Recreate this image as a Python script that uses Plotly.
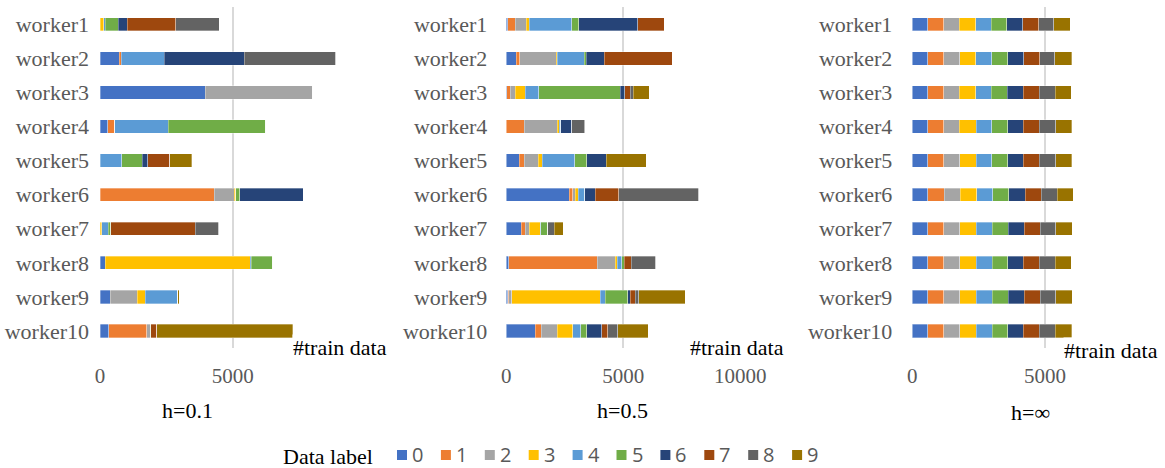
import plotly.graph_objects as go

# Worker names (top to bottom) and data labels
workers = [f"worker{i}" for i in range(1, 11)]
labels = ["0", "1", "2", "3", "4", "5", "6", "7", "8", "9"]
colors = ["#4472C4", "#ED7D31", "#A5A5A5", "#FFC000", "#5B9BD5",
          "#70AD47", "#264478", "#9E480E", "#636363", "#997300"]

# Number of training samples per label for each worker (rows = workers, cols = labels 0..9)
h_01 = [
    [0, 0, 0, 140, 60, 480, 340, 1830, 1650, 0],
    [730, 75, 0, 0, 1620, 0, 3010, 0, 3450, 0],
    [3970, 0, 4040, 0, 0, 0, 0, 0, 0, 0],
    [300, 250, 0, 0, 2020, 3670, 0, 0, 0, 0],
    [0, 0, 0, 0, 820, 770, 210, 820, 0, 840],
    [0, 4300, 750, 60, 0, 160, 2390, 0, 0, 0],
    [0, 0, 0, 75, 230, 100, 0, 3190, 870, 0],
    [190, 0, 0, 5480, 25, 820, 0, 0, 0, 0],
    [380, 0, 1020, 310, 1220, 0, 0, 0, 0, 50],
    [330, 1430, 130, 0, 0, 25, 0, 230, 0, 5120],
]
h_05 = [
    [60, 330, 460, 130, 1810, 310, 2510, 1150, 0, 0],
    [430, 140, 1570, 30, 1170, 70, 780, 2910, 0, 0],
    [20, 150, 210, 440, 560, 3480, 200, 230, 140, 670],
    [0, 770, 1400, 90, 70, 0, 460, 0, 560, 30],
    [560, 200, 600, 170, 1400, 510, 840, 0, 0, 1700],
    [2690, 160, 90, 140, 270, 0, 460, 1000, 3410, 0],
    [630, 170, 190, 460, 30, 300, 0, 0, 270, 390],
    [110, 3780, 760, 90, 200, 100, 0, 310, 1030, 0],
    [60, 40, 140, 3780, 210, 970, 100, 210, 160, 1970],
    [1240, 260, 680, 670, 330, 260, 630, 260, 440, 1300],
]
h_inf = [
    [590, 590, 590, 615, 590, 590, 600, 600, 565, 625],
    [590, 600, 600, 605, 600, 600, 605, 600, 565, 640],
    [590, 590, 580, 630, 590, 605, 590, 600, 605, 600],
    [590, 590, 580, 640, 590, 605, 590, 605, 605, 605],
    [590, 590, 600, 630, 580, 605, 590, 605, 605, 605],
    [590, 605, 605, 630, 605, 605, 605, 605, 605, 615],
    [590, 590, 605, 615, 605, 605, 605, 605, 590, 615],
    [590, 590, 605, 615, 605, 590, 590, 590, 605, 600],
    [590, 590, 605, 615, 605, 605, 605, 605, 590, 615],
    [590, 590, 605, 615, 605, 590, 590, 605, 590, 630],
]
panel_titles = ["h=0.1", "h=0.5", "h=\u221e"]
panels = [h_01, h_05, h_inf]
x_ticks = [[0, 5000], [0, 5000, 10000], [0, 5000]]

W, H = 1165, 468
SERIF = "Liberation Serif"
SANS = "Open Sans"
GRAY = "#595959"

fig = go.Figure()
for p, data in enumerate(panels):
    xa = "x" if p == 0 else f"x{p + 1}"
    ya = "y" if p == 0 else f"y{p + 1}"
    for k, lab in enumerate(labels):
        fig.add_trace(go.Bar(
            y=workers, x=[row[k] for row in data], orientation="h",
            name=lab, legendgroup=lab, showlegend=False,
            marker=dict(color=colors[k], line=dict(width=0.6, color="rgba(255,255,255,0.55)")),
            xaxis=xa, yaxis=ya, hoverinfo="x+y+name",
        ))


def px(v):
    return v / W


def py(v):
    return 1 - v / H


ydom = [py(348), py(7.3)]
xdoms = [[px(100), px(365.4)], [px(506.3), px(740.3)], [px(912.3), px(1151.3)]]
xranges = [[0, 10000], [0, 10000], [0, 9000]]
ystandoff = [10, 18, 19]

layout = dict(
    width=W, height=H, margin=dict(l=0, r=0, t=0, b=0, autoexpand=False),
    barmode="stack", bargap=0.61, showlegend=False,
    plot_bgcolor="white", paper_bgcolor="white",
    font=dict(family=SERIF, size=22, color=GRAY),
)
for p in range(3):
    xk = "xaxis" if p == 0 else f"xaxis{p + 1}"
    yk = "yaxis" if p == 0 else f"yaxis{p + 1}"
    ya = "y" if p == 0 else f"y{p + 1}"
    xa = "x" if p == 0 else f"x{p + 1}"
    layout[xk] = dict(
        domain=xdoms[p], range=xranges[p], tickvals=x_ticks[p],
        ticktext=[str(v) for v in x_ticks[p]],
        anchor=ya, showgrid=True, gridcolor="#d9d9d9", gridwidth=1.5,
        zeroline=False, showline=False, ticks="outside", ticklen=4,
        tickcolor="rgba(0,0,0,0)", ticklabelstandoff=5,
        tickfont=dict(family=SERIF, size=21, color=GRAY), fixedrange=True,
        automargin=False,
    )
    layout[yk] = dict(
        domain=ydom, anchor=xa, categoryorder="array", categoryarray=workers,
        autorange="reversed", showgrid=False, zeroline=False, showline=False,
        ticks="", ticklabelstandoff=ystandoff[p],
        tickfont=dict(family=SERIF, size=22, color=GRAY), fixedrange=True,
        automargin=False,
    )

annotations = []
shapes = []
# axis titles with white fill, sitting over the bottom right of each plot
for cx, cy in [(340, 347), (737, 347), (1111, 350)]:
    annotations.append(dict(
        text="#train data", x=px(cx), y=py(cy), xref="paper", yref="paper",
        xanchor="center", yanchor="middle", showarrow=False, bgcolor="white",
        font=dict(family=SERIF, size=22, color="black"), borderpad=0,
    ))
# panel captions
for t, cx, cy in zip(panel_titles, [187, 622, 1030], [410, 410, 412]):
    annotations.append(dict(
        text=t, x=px(cx), y=py(cy), xref="paper", yref="paper",
        xanchor="center", yanchor="middle", showarrow=False,
        font=dict(family=SERIF, size=22, color="black"),
    ))

# colour key along the bottom
key_y = 455
annotations.append(dict(
    text="Data label", x=px(282), y=py(key_y + 1), xref="paper", yref="paper",
    xanchor="left", yanchor="middle", showarrow=False, height=20, borderpad=0,
    valign="middle", font=dict(family=SERIF, size=22, color="black"),
))
for k, lab in enumerate(labels):
    x0 = 397 + 43.9 * k
    shapes.append(dict(
        type="rect", xref="paper", yref="paper",
        x0=px(x0), x1=px(x0 + 10), y0=py(key_y + 5), y1=py(key_y - 5),
        fillcolor=colors[k], line=dict(width=0),
    ))
    annotations.append(dict(
        text=lab, x=px(x0 + 14), y=py(key_y - 1), xref="paper", yref="paper",
        xanchor="left", yanchor="middle", showarrow=False, borderpad=0,
        font=dict(family=SANS, size=20, color=GRAY),
    ))

layout["annotations"] = annotations
layout["shapes"] = shapes

fig.update_layout(**layout)
fig.write_html("out.html")
